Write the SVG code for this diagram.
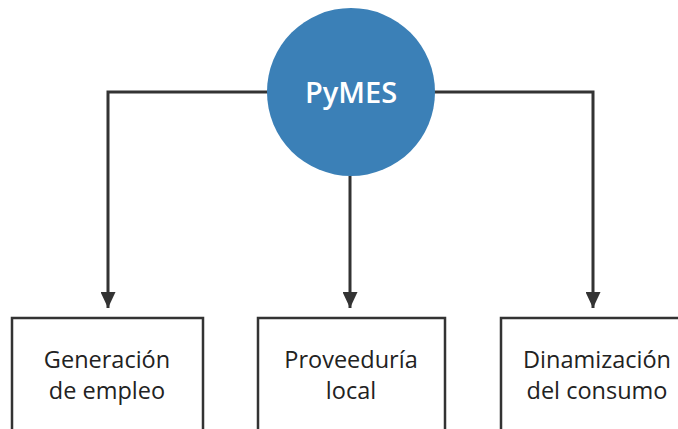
<svg xmlns="http://www.w3.org/2000/svg" width="678" height="429" viewBox="0 0 678 429">
<style>
.conn{fill:none;stroke:#333;stroke-width:3}
.box{fill:#fff;stroke:#333;stroke-width:2.5}
.lbl{font-family:"Open Sans","Noto Sans",sans-serif;font-size:23.5px;font-weight:500;fill:#222;text-anchor:middle}
.hub{font-family:"Open Sans","Noto Sans",sans-serif;font-size:29px;font-weight:600;fill:#fff;text-anchor:middle}
</style>
<defs>
<marker id="arr" markerWidth="16" markerHeight="15" refX="16" refY="7.5" orient="auto" markerUnits="userSpaceOnUse">
<path d="M0,0 L16,7.5 L0,15 Z" fill="#333"/>
</marker>
</defs>
<rect width="678" height="429" fill="#fff"/>
<g id="connectors">
<path class="conn" d="M268,92 H108 V308" marker-end="url(#arr)"/>
<path class="conn" d="M350,176 V308" marker-end="url(#arr)"/>
<path class="conn" d="M434,92 H593 V308" marker-end="url(#arr)"/>
</g>
<g id="pymes">
<circle cx="351" cy="92" r="84" fill="#3b80b7"/>
<text class="hub" x="351" y="103">PyMES</text>
</g>
<g id="empleo">
<rect class="box" x="12" y="318" width="191" height="130"/>
<text class="lbl" x="107" y="368">Generación</text>
<text class="lbl" x="107" y="399">de empleo</text>
</g>
<g id="proveeduria">
<rect class="box" x="258" y="318" width="187" height="130"/>
<text class="lbl" x="351" y="368">Proveeduría</text>
<text class="lbl" x="351" y="399">local</text>
</g>
<g id="consumo">
<rect class="box" x="501" y="318" width="200" height="130"/>
<text class="lbl" x="597" y="368">Dinamización</text>
<text class="lbl" x="597" y="399">del consumo</text>
</g>
</svg>
